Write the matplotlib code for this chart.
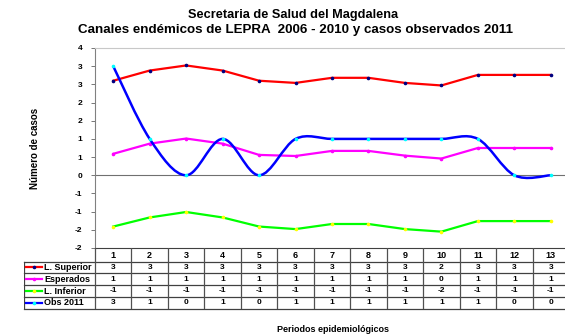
import numpy as np
import matplotlib.pyplot as plt
from matplotlib.path import Path
from matplotlib.patches import PathPatch

plt.rcParams['font.family'] = ['Liberation Sans', 'DejaVu Sans']

# canales endemicos y casos observados por periodo epidemiologico
periodos = list(range(1, 14))
l_superior = [2.60, 2.88, 3.02, 2.88, 2.60, 2.54, 2.68, 2.68, 2.54, 2.47, 2.76, 2.76, 2.76]
esperados = [0.59, 0.87, 1.01, 0.87, 0.56, 0.53, 0.67, 0.67, 0.54, 0.46, 0.75, 0.75, 0.75]
l_inferior = [-1.41, -1.16, -1.01, -1.16, -1.41, -1.48, -1.34, -1.34, -1.48, -1.55, -1.26, -1.26, -1.26]
obs_2011 = [3, 1, 0, 1, 0, 1, 1, 1, 1, 1, 1, 0, 0]

series = [
    ('L. Superior', l_superior, '#ff0000', '#000080'),
    ('Esperados', esperados, '#ff00ff', '#ff00ff'),
    ('L. Inferior', l_inferior, '#00ff00', '#ffff00'),
    ('Obs 2011', obs_2011, '#0000ff', '#00ffff'),
]


def redondeo(v):
    # redondeo como Excel: la mitad se aleja del cero
    s = -1 if v < 0 else 1
    return str(int(s * np.floor(abs(v) + 0.5)))


def curva_suave(xs, ys):
    # curva de Bezier tipo "linea suavizada" de Excel
    px = [xs[0]] + list(xs) + [xs[-1]]
    py = [ys[0]] + list(ys) + [ys[-1]]
    verts = [(xs[0], ys[0])]
    codes = [Path.MOVETO]
    for i in range(1, len(px) - 2):
        c1 = (px[i] + (px[i + 1] - px[i - 1]) / 6, py[i] + (py[i + 1] - py[i - 1]) / 6)
        c2 = (px[i + 1] - (px[i + 2] - px[i]) / 6, py[i + 1] - (py[i + 2] - py[i]) / 6)
        verts += [c1, c2, (px[i + 1], py[i + 1])]
        codes += [Path.CURVE4] * 3
    return Path(verts, codes)


W, H = 565, 335
fig = plt.figure(figsize=(W / 100, H / 100), dpi=100)

# area del grafico
x0, x1 = 95, 569
ax = fig.add_axes([x0 / W, (H - 248) / H, (x1 - x0) / W, 200 / H])
ax.set_xlim(0.5, 13.5)
ax.set_ylim(-2, 3.5)

for nombre, vals, color, mcolor in series[:3]:
    ax.plot(periodos, vals, color=color, lw=1.6, marker='o', ms=1.6,
            mfc=mcolor, mec=mcolor, zorder=3)
ax.add_patch(PathPatch(curva_suave(periodos, obs_2011), fill=False,
                       ec='#0000ff', lw=1.8, zorder=4))
ax.plot(periodos, obs_2011, ls='none', marker='o', ms=1.6, mfc='#00ffff',
        mec='#00ffff', zorder=5)

ax.axhline(0, color='#707070', lw=0.8, zorder=2)
yt = np.arange(-2, 3.51, 0.5)
ax.set_yticks(yt)
ax.set_yticklabels([redondeo(v) for v in yt], fontsize=6, fontweight='bold')
ax.tick_params(axis='y', length=3, width=0.6, color='#606060', pad=6)
ax.set_xticks([])
ax.spines['right'].set_visible(False)
ax.spines['top'].set_color('#c8c8c8')
ax.spines['left'].set_color('#808080')
ax.spines['bottom'].set_color('#404040')

# tabla de datos bajo el grafico
px2x = lambda p: 0.5 + (p - x0) * 13 / (x1 - x0)
tax = fig.add_axes([24 / W, (H - 309) / H, (x1 - 24) / W, 61 / H])
tax.set_xlim(px2x(24), 13.5)
tax.set_ylim(309, 248)
tax.axis('off')

bordes = [261.5, 273.3, 285.1, 296.9, 308.7]
for y in bordes:
    tax.plot([px2x(24), 13.5], [y, y], color='#404040', lw=0.9, clip_on=False)
tax.plot([px2x(24), px2x(24)], [bordes[0], bordes[-1]], color='#404040', lw=0.9)
for xv in np.arange(0.5, 13.5, 1.0):
    tax.plot([xv, xv], [248, bordes[-1]], color='#505050', lw=0.9)

for p in periodos:
    tax.text(p, 255, str(p), ha='center', va='center', fontsize=6.5, fontweight='bold')

for r, (nombre, vals, color, mcolor) in enumerate(series):
    yc = (bordes[r] + bordes[r + 1]) / 2
    tax.plot([px2x(26), px2x(42)], [yc, yc], color=color, lw=1.6)
    tax.plot([px2x(34)], [yc], marker='o', ms=1.6, color=mcolor)
    tax.text(px2x(44), yc, nombre, ha='left', va='center', fontsize=6.5, fontweight='bold')
    for p, v in zip(periodos, vals):
        tax.text(p, yc, redondeo(v), ha='center', va='center', fontsize=6, fontweight='bold')

# titulos
fig.text(293 / W, 1 - 15 / H, 'Secretaria de Salud del Magdalena', ha='center',
         va='center', fontsize=9.2, fontweight='bold')
fig.text(296 / W, 1 - 30 / H, 'Canales endémicos de LEPRA  2006 - 2010 y casos observados 2011',
         ha='center', va='center', fontsize=9.6, fontweight='bold')
fig.text(35 / W, 1 - 148 / H, 'Número de casos', rotation=90, ha='center',
         va='center', fontsize=7, fontweight='bold')
fig.text(333 / W, 1 - 330 / H, 'Periodos epidemiológicos', ha='center',
         va='center', fontsize=6.5, fontweight='bold')

fig.savefig('out.png', dpi=100)
